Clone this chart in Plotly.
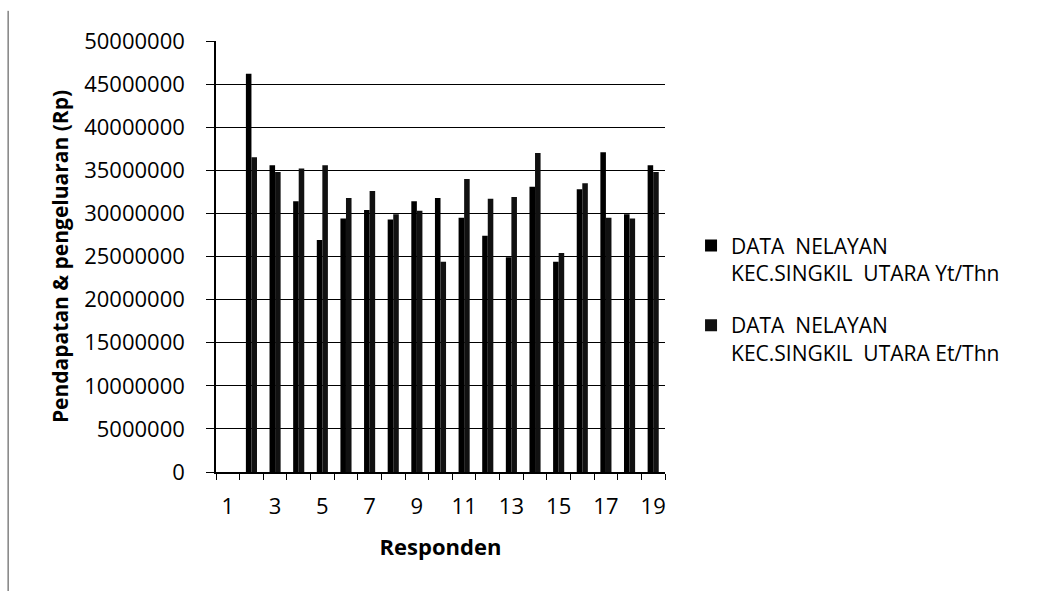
import plotly.graph_objects as go

# Respondent numbers and yearly income (Yt) / expenditure (Et) in rupiah
responden = list(range(1, 20))
yt_thn = [None, 46200000, 35600000, 31400000, 26900000, 29400000, 30400000,
          29300000, 31400000, 31800000, 29500000, 27400000, 24900000,
          33100000, 24400000, 32800000, 37100000, 29900000, 35600000]
et_thn = [None, 36500000, 34800000, 35200000, 35600000, 31800000, 32600000,
          29900000, 30300000, 24400000, 34000000, 31700000, 31900000,
          37000000, 25400000, 33500000, 29500000, 29400000, 34800000]

y_ticks = list(range(0, 50000001, 5000000))
x_ticks = list(range(1, 20, 2))

name_yt = "DATA\u00a0\u00a0NELAYAN<br>KEC.SINGKIL\u00a0\u00a0UTARA Yt/Thn"
name_et = "DATA\u00a0\u00a0NELAYAN<br>KEC.SINGKIL\u00a0\u00a0UTARA Et/Thn"

FONT = "Open Sans"

fig = go.Figure()
fig.add_trace(go.Bar(x=responden, y=yt_thn, name=name_yt, legendgroup="yt",
                     marker=dict(color="#000000", line=dict(width=0))))
fig.add_trace(go.Bar(x=responden, y=et_thn, name=name_et, legendgroup="et",
                     marker=dict(color="#111111", line=dict(width=0))))

fig.update_layout(
    width=1049, height=591,
    margin=dict(l=216, r=384, t=41, b=119, autoexpand=False),
    paper_bgcolor="white", plot_bgcolor="white",
    barmode="group", bargap=0.53, bargroupgap=0,
    font=dict(family=FONT, color="black", size=22),
    showlegend=True,
    legend=dict(x=1.058, y=0.572, xanchor="left", yanchor="top",
                valign="top", traceorder="grouped", tracegroupgap=22,
                font=dict(family=FONT, size=21, color="black"),
                bgcolor="rgba(0,0,0,0)", itemwidth=30),
    xaxis=dict(range=[0.5, 19.5], tickmode="array", tickvals=x_ticks,
               ticktext=[str(v) for v in x_ticks], ticks="",
               ticklabelstandoff=14,
               minor=dict(tick0=0.5, dtick=1, ticks="outside", ticklen=6,
                          tickcolor="black", tickwidth=1.2, showgrid=False),
               showline=True, linecolor="black", linewidth=1.5,
               showgrid=False, zeroline=False,
               tickfont=dict(size=22),
               title=dict(text="<b>Responden</b>", font=dict(size=22),
                          standoff=20)),
    yaxis=dict(range=[0, 50000000], tickmode="array", tickvals=y_ticks,
               ticktext=[str(v) for v in y_ticks],
               ticks="outside", ticklen=8, tickcolor="black", tickwidth=1.2,
               ticklabelstandoff=17,
               showline=True, linecolor="black", linewidth=1.5,
               showgrid=True, gridcolor="black", gridwidth=1.4,
               zeroline=False, tickfont=dict(size=22),
               title=dict(text="<b>Pendapatan & pengeluaran (Rp)</b>",
                          font=dict(size=21), standoff=10)),
    shapes=[dict(type="line", xref="paper", yref="paper",
                 x0=-0.463, x1=-0.463, y0=1.07, y1=-0.3,
                 line=dict(color="#444444", width=1))],
)

fig.write_html("out.html")
